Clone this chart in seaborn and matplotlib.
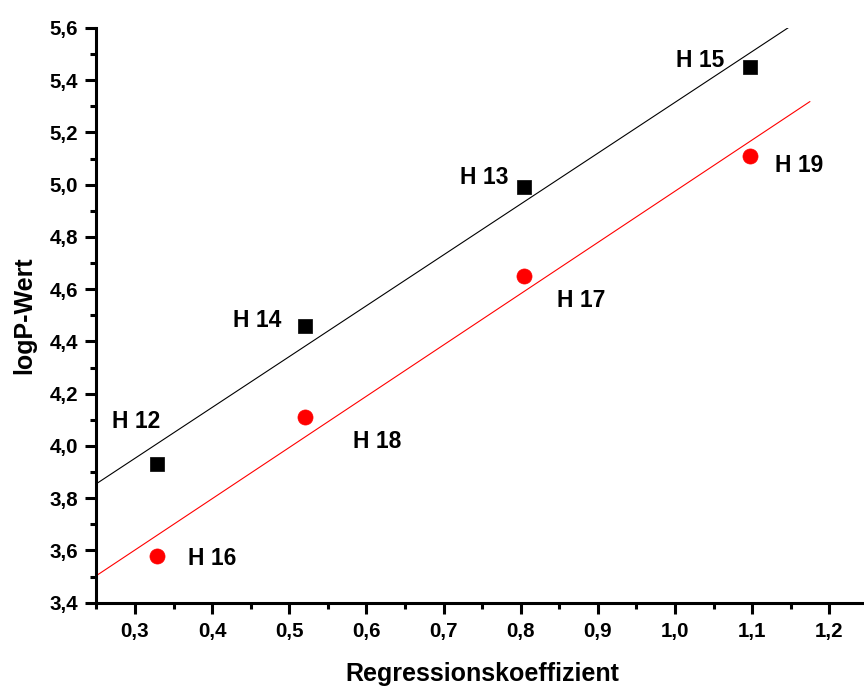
import numpy as np
import pandas as pd
import matplotlib
matplotlib.use("Agg")
import matplotlib.pyplot as plt
import seaborn as sns
from matplotlib.ticker import FuncFormatter, MultipleLocator

# Regression coefficients (x) and logP values (y) of both compound series
coeff = [0.329, 0.521, 0.804, 1.097]
logp_black = [3.93, 4.46, 4.99, 5.45]
logp_red = [3.58, 4.11, 4.65, 5.11]
names_black = ["H 12", "H 14", "H 13", "H 15"]
names_red = ["H 16", "H 18", "H 17", "H 19"]

# label offsets (points) relative to each marker
offsets_black = [(-15.5, 25.8), (-34.6, -0.9), (-28.6, 2.1), (-35.9, 0.4)]
offsets_red = [(39.5, -6.9), (52.0, -22.0), (41.0, -22.1), (35.3, -11.4)]

sns.set_theme(style="ticks")
plt.rcParams["font.family"] = ["Liberation Sans", "DejaVu Sans"]
plt.rcParams["font.weight"] = "bold"

W, H = 864, 686
fig = plt.figure(figsize=(W / 100, H / 100), dpi=100)
ax = fig.add_axes([96.4 / W, 83.3 / H, 771.4 / W, 574.7 / H])

df_b = pd.DataFrame({"x": coeff, "y": logp_black})
df_r = pd.DataFrame({"x": coeff, "y": logp_red})

# least-squares lines over the plotted range
x_fit = np.linspace(0.25, 1.175, 50)
for df, col in ((df_b, "black"), (df_r, "red")):
    k, d = np.polyfit(df["x"], df["y"], 1)
    sns.lineplot(x=x_fit, y=k * x_fit + d, color=col, linewidth=0.8, ax=ax)

sns.scatterplot(data=df_b, x="x", y="y", marker="s", s=88, color="black",
                edgecolor="black", linewidth=0.5, ax=ax, zorder=3)
sns.scatterplot(data=df_r, x="x", y="y", marker="o", s=118, color="red",
                edgecolor="red", linewidth=0.5, ax=ax, zorder=3)

for xs, ys, names, offs in ((coeff, logp_black, names_black, offsets_black),
                            (coeff, logp_red, names_red, offsets_red)):
    for xv, yv, name, off in zip(xs, ys, names, offs):
        ax.annotate(name, (xv, yv), xytext=off, textcoords="offset points",
                    ha="center", va="baseline", fontsize=16.5,
                    fontweight="bold", color="black")

ax.set_xlim(0.25, 1.25)
ax.set_ylim(3.4, 5.6)
ax.xaxis.set_major_locator(MultipleLocator(0.1))
ax.xaxis.set_minor_locator(MultipleLocator(0.05))
ax.yaxis.set_major_locator(MultipleLocator(0.2))
ax.yaxis.set_minor_locator(MultipleLocator(0.1))
comma = FuncFormatter(lambda v, p: f"{v:.1f}".replace(".", ","))
ax.xaxis.set_major_formatter(comma)
ax.yaxis.set_major_formatter(comma)
ax.set_xticks([t / 10 for t in range(3, 13)])

sns.despine(ax=ax)
for s in ("left", "bottom"):
    ax.spines[s].set_linewidth(2.2)
    ax.spines[s].set_color("black")
ax.tick_params(which="major", length=8, width=2.2, color="black",
               labelsize=14.8, labelcolor="black")
ax.tick_params(axis="x", which="major", pad=6)
ax.tick_params(axis="y", which="major", pad=5)
ax.tick_params(which="minor", length=4.3, width=2.2, color="black")
for lab in ax.get_xticklabels() + ax.get_yticklabels():
    lab.set_fontweight("bold")

ax.set_xlabel("Regressionskoeffizient", fontsize=18, fontweight="bold",
              labelpad=15, color="black")
ax.set_ylabel("logP-Wert", fontsize=18, fontweight="bold",
              labelpad=10, color="black")
ax.grid(False)

fig.savefig("out.png", dpi=100)
